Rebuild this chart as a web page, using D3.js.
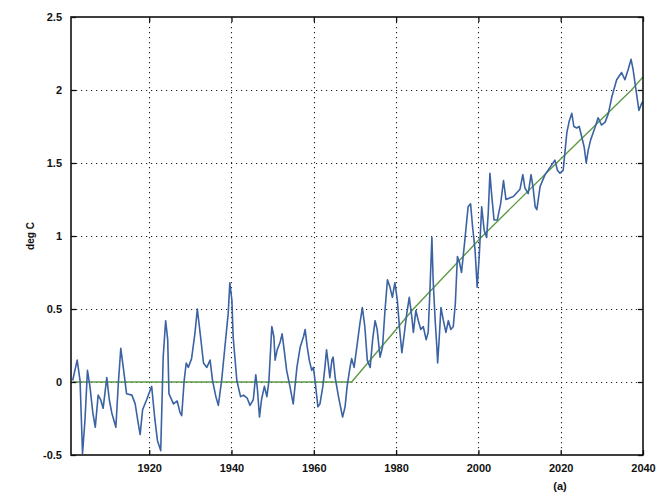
<!DOCTYPE html>
<html>
<head>
<meta charset="utf-8">
<script src="https://cdn.jsdelivr.net/npm/d3@7"></script>
<style>
  html, body { margin: 0; padding: 0; background: #fff; }
  svg { display: block; }
  text { font-family: "Liberation Sans", Arial, sans-serif; fill: #111; }
</style>
</head>
<body>
<svg id="chart" width="656" height="492"></svg>
<script>
// Temperature anomaly record (year, deg C)
const years = [
  1901.4,1902.5,1903.2,1903.8,1904.4,1905.0,1905.6,1906.3,1906.9,1907.6,
  1908.2,1908.8,1909.7,1910.3,1910.9,1911.9,1912.5,1913.1,1913.7,1914.5,
  1915.8,1916.6,1917.2,1917.8,1918.4,1919.4,1920.6,1921.4,1922.0,1922.8,
  1923.4,1924.0,1924.5,1924.8,1925.9,1926.8,1927.5,1927.9,1928.5,1929.0,
  1929.5,1930.3,1931.1,1931.7,1932.2,1933.2,1934.0,1934.8,1935.4,1936.2,
  1936.8,1937.6,1938.4,1939.2,1939.6,1940.1,1940.4,1941.3,1942.2,1942.9,
  1943.8,1944.5,1945.3,1945.9,1946.3,1946.8,1947.3,1948.0,1948.6,1949.1,
  1949.8,1950.3,1950.6,1951.1,1951.8,1952.3,1952.8,1953.4,1954.2,1955.0,
  1955.9,1956.7,1957.5,1957.9,1958.4,1958.9,1959.5,1959.9,1960.3,1961.0,
  1961.5,1962.2,1962.7,1963.1,1963.5,1963.9,1964.4,1964.7,1965.2,1966.0,
  1967.0,1967.6,1968.1,1968.8,1969.2,1969.8,1970.6,1971.2,1971.8,1972.4,
  1973.0,1973.7,1974.3,1974.9,1975.4,1976.1,1976.7,1977.3,1977.9,1978.5,
  1979.1,1979.7,1980.3,1980.8,1981.4,1981.9,1982.6,1983.2,1983.8,1984.2,
  1984.8,1985.4,1986.0,1986.6,1987.3,1987.8,1988.2,1988.7,1989.0,1989.5,
  1989.9,1990.1,1990.5,1990.9,1991.5,1992.1,1992.7,1993.3,1993.9,1994.4,
  1994.9,1995.4,1995.9,1996.7,1997.5,1998.1,1998.6,1999.2,1999.7,2000.2,
  2000.8,2001.4,2002.0,2002.4,2002.8,2003.2,2003.8,2004.6,2005.4,2006.1,
  2006.7,2008.5,2010.1,2010.8,2011.3,2012.1,2012.8,2013.3,2013.8,2014.2,
  2015.0,2016.2,2017.4,2018.6,2019.2,2019.8,2020.6,2021.5,2022.1,2022.7,
  2023.2,2023.9,2024.5,2025.1,2025.7,2026.2,2026.7,2027.3,2028.3,2029.1,
  2029.9,2030.8,2031.6,2032.4,2033.6,2034.8,2035.6,2036.4,2037.1,2037.6,
  2038.3,2039.0,2039.7,2039.95
];
const anomaly = [
  0.01,0.15,0.01,-0.49,-0.26,0.08,-0.03,-0.21,-0.31,-0.09,
  -0.12,-0.18,0.03,-0.12,-0.21,-0.31,-0.01,0.23,0.10,-0.08,
  -0.09,-0.15,-0.26,-0.36,-0.19,-0.12,-0.03,-0.26,-0.40,-0.47,
  0.17,0.42,0.29,-0.08,-0.15,-0.13,-0.21,-0.23,0.01,0.13,
  0.10,0.16,0.33,0.50,0.38,0.13,0.10,0.15,0.01,-0.10,
  -0.16,0.01,0.24,0.47,0.68,0.56,0.31,0.01,-0.10,-0.09,
  -0.11,-0.16,-0.12,0.05,-0.05,-0.24,-0.12,-0.03,-0.10,0.01,
  0.38,0.31,0.15,0.22,0.27,0.33,0.22,0.08,-0.03,-0.15,
  0.10,0.24,0.31,0.36,0.24,0.15,0.08,0.10,0.01,-0.17,
  -0.15,-0.03,0.10,0.22,0.13,0.03,0.15,0.17,0.03,-0.10,
  -0.24,-0.17,-0.03,0.10,0.16,0.10,0.27,0.40,0.51,0.38,
  0.15,0.10,0.29,0.42,0.36,0.17,0.24,0.49,0.70,0.65,
  0.58,0.68,0.56,0.38,0.20,0.31,0.47,0.58,0.45,0.34,
  0.49,0.42,0.36,0.38,0.29,0.34,0.61,0.99,0.70,0.42,
  0.24,0.13,0.31,0.51,0.42,0.34,0.42,0.36,0.38,0.54,
  0.86,0.82,0.75,0.97,1.20,1.22,1.06,0.90,0.65,0.86,
  1.20,1.04,0.99,1.16,1.43,1.29,1.11,1.11,1.22,1.38,
  1.25,1.27,1.32,1.42,1.33,1.29,1.42,1.33,1.20,1.18,
  1.34,1.42,1.47,1.52,1.45,1.43,1.45,1.71,1.79,1.84,
  1.75,1.74,1.75,1.68,1.61,1.50,1.59,1.66,1.74,1.81,
  1.76,1.78,1.84,1.95,2.07,2.12,2.07,2.14,2.21,2.14,
  2.00,1.86,1.91,1.92
];

// Fitted trend: flat baseline, then warming from 1969 on
const trendYears = [1901.4, 1969.2, 1984.2, 2001.0, 2019.0, 2037.2, 2040.0];
const trendValues = [0, 0, 0.5, 1.0, 1.5, 2.0, 2.09];

const xTicks = [1920, 1940, 1960, 1980, 2000, 2020, 2040];
const yTicks = [-0.5, 0, 0.5, 1, 1.5, 2, 2.5];
const yTickLabels = ["-0.5", "0", "0.5", "1", "1.5", "2", "2.5"];

const svg = d3.select("#chart");
const margin = { left: 71, top: 17, right: 13, bottom: 37 };
const W = 656, H = 492;
const iw = W - margin.left - margin.right;
const ih = H - margin.top - margin.bottom;

const x = d3.scaleLinear().domain([1901, 2040]).range([margin.left, margin.left + iw]);
const y = d3.scaleLinear().domain([-0.5, 2.5]).range([margin.top + ih, margin.top]);

// Dotted grid
const grid = svg.append("g").attr("stroke", "#222").attr("stroke-width", 1.1)
  .attr("stroke-dasharray", "1.2,3.8");
grid.selectAll("line.v").data(xTicks.filter(t => t < 2040)).join("line")
  .attr("x1", d => Math.round(x(d)) + 0.5).attr("x2", d => Math.round(x(d)) + 0.5)
  .attr("y1", y(2.5)).attr("y2", y(-0.5));
grid.selectAll("line.h").data(yTicks.filter(t => t > -0.5 && t < 2.5)).join("line")
  .attr("y1", d => Math.round(y(d)) + 0.5).attr("y2", d => Math.round(y(d)) + 0.5)
  .attr("x1", x(1901)).attr("x2", x(2040));

// Series
const seriesData = years.map((yr, i) => [yr, anomaly[i]]);
const trendData = trendYears.map((yr, i) => [yr, trendValues[i]]);
const line = d3.line().x(d => x(d[0])).y(d => y(d[1]));

svg.append("path").datum(trendData)
  .attr("d", line).attr("fill", "none")
  .attr("stroke", "#5e9a45").attr("stroke-width", 1.4);

svg.append("path").datum(seriesData)
  .attr("d", line).attr("fill", "none")
  .attr("stroke", "#3b62a3").attr("stroke-width", 1.6)
  .attr("stroke-linejoin", "round");

// Axes: inward ticks on all four sides
const tickLen = 5;
const axB = svg.append("g").attr("transform", `translate(0,${y(-0.5)})`)
  .call(d3.axisBottom(x).tickValues(xTicks).tickFormat(d3.format("d")).tickSize(-tickLen).tickPadding(9));
const axT = svg.append("g").attr("transform", `translate(0,${y(2.5)})`)
  .call(d3.axisTop(x).tickValues(xTicks).tickFormat("").tickSize(-tickLen));
const axL = svg.append("g").attr("transform", `translate(${x(1901)},0)`)
  .call(d3.axisLeft(y).tickValues(yTicks).tickFormat((d, i) => yTickLabels[i]).tickSize(-tickLen).tickPadding(9));
const axR = svg.append("g").attr("transform", `translate(${x(2040)},0)`)
  .call(d3.axisRight(y).tickValues(yTicks).tickFormat("").tickSize(-tickLen));

[axB, axT, axL, axR].forEach(a => {
  a.select(".domain").remove();
  a.selectAll("line").attr("stroke", "#111").attr("stroke-width", 1.3);
  a.selectAll("text").attr("font-size", 11).attr("font-weight", "bold")
    .attr("font-family", "'Liberation Sans', Arial, sans-serif").attr("fill", "#111");
});

// Frame
svg.append("rect")
  .attr("x", x(1901)).attr("y", y(2.5))
  .attr("width", x(2040) - x(1901)).attr("height", y(-0.5) - y(2.5))
  .attr("fill", "none").attr("stroke", "#111").attr("stroke-width", 1.6);

// Labels
svg.append("text")
  .attr("transform", `translate(34,${y(1.0)}) rotate(-90)`)
  .attr("text-anchor", "middle").attr("font-size", 10).attr("font-weight", "bold")
  .text("deg C");

svg.append("text")
  .attr("x", 560).attr("y", 490).attr("text-anchor", "middle")
  .attr("font-size", 11).attr("font-weight", "bold")
  .text("(a)");
</script>
</body>
</html>
